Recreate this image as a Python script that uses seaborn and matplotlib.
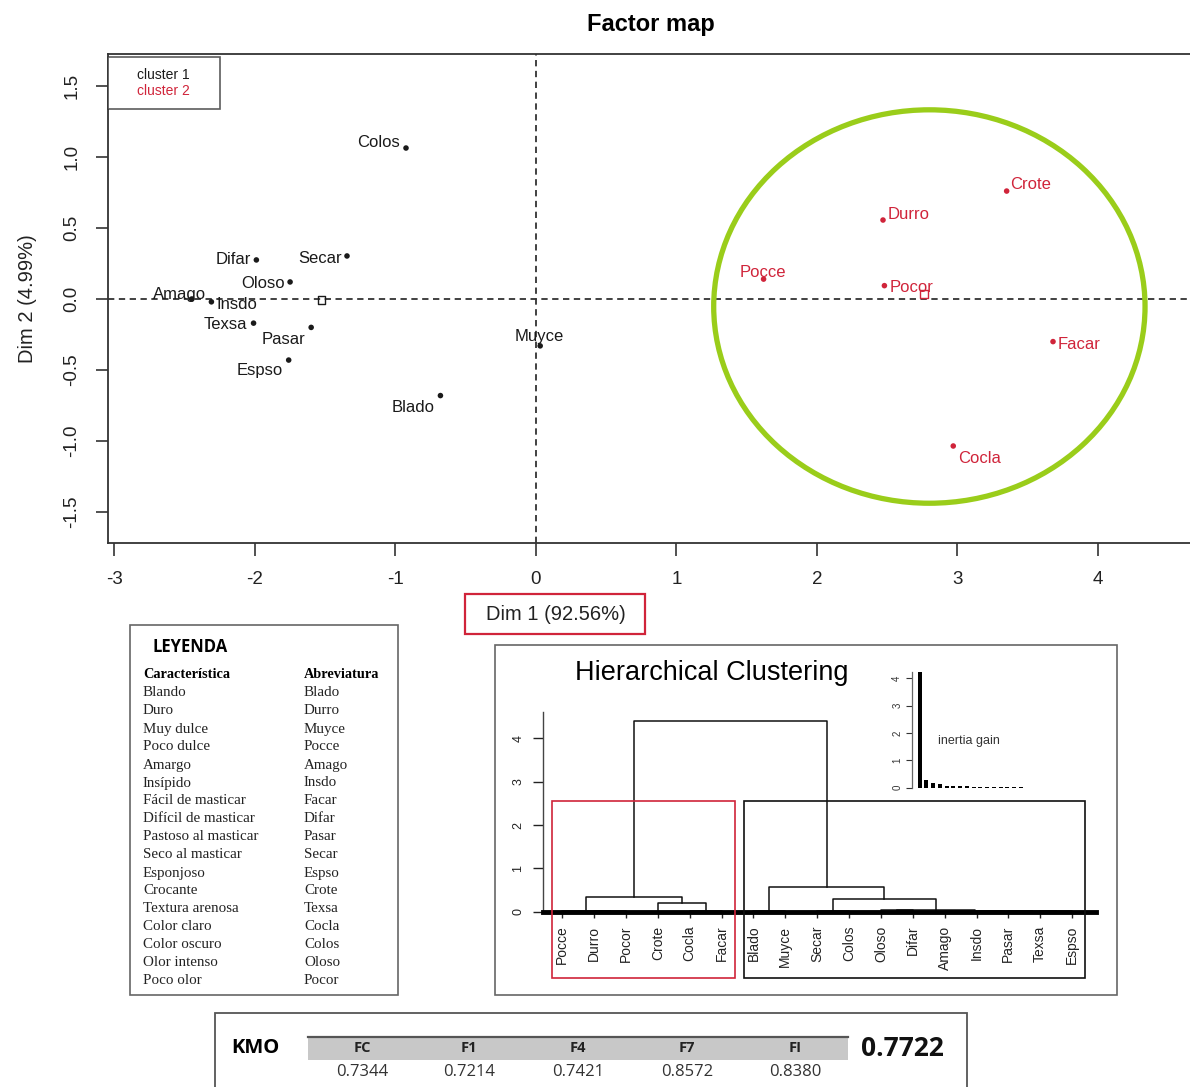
import numpy as np
import pandas as pd
import matplotlib
matplotlib.use("Agg")
import matplotlib.pyplot as plt
import seaborn as sns
from matplotlib.patches import Ellipse, Rectangle
from matplotlib.lines import Line2D

# ---------------- data ----------------
names = ["Colos", "Secar", "Difar", "Oloso", "Amago", "Insdo", "Texsa", "Pasar",
         "Espso", "Blado", "Muyce", "Crote", "Durro", "Pocce", "Pocor", "Facar", "Cocla"]
dim1 = [-0.925, -1.345, -1.99, -1.75, -2.45, -2.31, -2.01, -1.60,
        -1.76, -0.68, 0.03, 3.35, 2.47, 1.62, 2.48, 3.68, 2.97]
dim2 = [1.063, 0.303, 0.275, 0.12, 0.0, -0.02, -0.17, -0.20,
        -0.43, -0.68, -0.33, 0.76, 0.556, 0.14, 0.094, -0.30, -1.035]
cluster = [1] * 11 + [2] * 6

highlight_center = (2.80, -0.053)
highlight_size = (3.07, 2.77)

leaf_order = ["Pocce", "Durro", "Pocor", "Crote", "Cocla", "Facar", "Blado", "Muyce",
              "Secar", "Colos", "Oloso", "Difar", "Amago", "Insdo", "Pasar", "Texsa", "Espso"]
leaf_cluster = [2] * 6 + [1] * 11
merge_left = ["Durro", "Pocce", "Cocla", "Crote", "m1", "Blado", "Secar", "Oloso",
              "Texsa", "Pasar", "Insdo", "Amago", "m7", "m6", "m5", "m4"]
merge_right = ["Pocor", "m0", "Facar", "m2", "m3", "Muyce", "Colos", "Difar",
               "Espso", "m8", "m9", "m10", "m11", "m12", "m13", "m14"]
merge_height = [0.01, 0.02, 0.015, 0.21, 0.35, 0.02, 0.02, 0.04,
                0.005, 0.008, 0.01, 0.012, 0.045, 0.285, 0.577, 4.40]
cut_height = 2.56

inertia_gain = [4.22, 0.28, 0.18, 0.15, 0.07, 0.06, 0.05, 0.05,
                0.04, 0.04, 0.04, 0.03, 0.03, 0.03, 0.03, 0.03]

caracteristica = ["Blando", "Duro", "Muy dulce", "Poco dulce", "Amargo", "Insípido",
                  "Fácil de masticar", "Difícil de masticar", "Pastoso al masticar",
                  "Seco al masticar", "Esponjoso", "Crocante", "Textura arenosa",
                  "Color claro", "Color oscuro", "Olor intenso", "Poco olor"]
abreviatura = ["Blado", "Durro", "Muyce", "Pocce", "Amago", "Insdo", "Facar", "Difar",
               "Pasar", "Secar", "Espso", "Crote", "Texsa", "Cocla", "Colos", "Oloso", "Pocor"]

kmo_labels = ["FC", "F1", "F4", "F7", "FI"]
kmo_values = [0.7344, 0.7214, 0.7421, 0.8572, 0.8380]
kmo_total = 0.7722

# ---------------- style ----------------
plt.rcParams["font.family"] = ["Liberation Sans", "DejaVu Sans"]
plt.rcParams["axes.unicode_minus"] = False
RED = "#d0243a"
DARK = "#1a1a1a"
GREEN = "#9acd1a"
W, H = 1190, 1087


def rect(l, t, r, b):
    return [l / W, 1 - b / H, (r - l) / W, (b - t) / H]


def fig_rect(l, t, r, b, **kw):
    return Rectangle((l / W, 1 - b / H), (r - l) / W, (b - t) / H,
                     transform=fig.transFigure, **kw)


fig = plt.figure(figsize=(W / 100, H / 100), dpi=100)

# ---------------- factor map ----------------
ax = fig.add_axes(rect(108, 54, 1190, 543))
df = pd.DataFrame(dict(name=names, dim1=dim1, dim2=dim2, cluster=cluster))
pal = {1: DARK, 2: RED}
ax.axhline(0, color="#333333", lw=1.3, ls=(0, (3.5, 2.5)), zorder=1)
ax.axvline(0, color="#333333", lw=1.3, ls=(0, (3.5, 2.5)), zorder=1)
sns.scatterplot(data=df, x="dim1", y="dim2", hue="cluster", palette=pal, s=16,
                edgecolor="none", legend=False, ax=ax, zorder=3)
centers = df.groupby("cluster")[["dim1", "dim2"]].mean().reset_index()
sns.scatterplot(data=centers, x="dim1", y="dim2", hue="cluster", palette=pal,
                marker="s", s=28, linewidth=1.0, legend=False, ax=ax, zorder=3)
for c in ax.collections[-1:]:
    c.set_facecolor("none")
    c.set_edgecolor([pal[k] for k in centers["cluster"]])

label_style = {
    "Colos": (-6, 6, "right"), "Secar": (-5, -3, "right"), "Difar": (-5, 0, "right"),
    "Oloso": (-5, -2, "right"), "Amago": (-12, 4, "center"), "Insdo": (5, -3, "left"),
    "Texsa": (-6, -1, "right"), "Pasar": (-6, -12, "right"), "Espso": (-6, -10, "right"),
    "Blado": (-6, -12, "right"), "Muyce": (-1, 9, "center"), "Crote": (3, 7, "left"),
    "Durro": (5, 6, "left"), "Pocce": (-1, 7, "center"), "Pocor": (5, -2, "left"),
    "Facar": (5, -3, "left"), "Cocla": (5, -13, "left"),
}
for _, r in df.iterrows():
    dx, dy, ha = label_style[r["name"]]
    ax.annotate(r["name"], (r["dim1"], r["dim2"]), xytext=(dx, dy),
                textcoords="offset pixels", ha=ha, va="center", fontsize=12,
                color=pal[r["cluster"]], zorder=4)

ax.add_patch(Ellipse(highlight_center, highlight_size[0], highlight_size[1],
                     fill=False, ec=GREEN, lw=3.8, zorder=2))

ax.set_xlim(-3.046, 4.655)
ax.set_ylim(-1.718, 1.725)
ax.set_xticks(range(-3, 5))
ax.set_xticklabels([str(v) for v in range(-3, 5)])
yt = [-1.5, -1.0, -0.5, 0.0, 0.5, 1.0, 1.5]
ax.set_yticks(yt)
ax.set_yticklabels([f"{v:.1f}" for v in yt], rotation=90, va="center")
ax.tick_params(direction="out", length=9, width=1.1, labelsize=13.5, pad=11, colors="#222222")
for s in ["left", "top", "bottom"]:
    ax.spines[s].set_linewidth(1.3)
    ax.spines[s].set_color("#333333")
ax.spines["right"].set_visible(False)
ax.set_xlabel("")
ax.set_ylabel("Dim 2 (4.99%)", fontsize=14.5, color="#222222")
ax.yaxis.set_label_coords(-0.066, 0.5)

leg = ax.legend([Line2D([], [], linestyle="none")] * 2, ["cluster 1", "cluster 2"],
                loc="upper left", bbox_to_anchor=(0, 0.994, 0.1035, 0), mode="expand",
                handlelength=1.1, handletextpad=0.22, borderpad=0.8, labelspacing=0.15,
                fontsize=10, labelcolor=[DARK, RED], frameon=True, fancybox=False,
                edgecolor="#333333", borderaxespad=0)
leg.get_frame().set_linewidth(1.2)

fig.text(651 / W, 1 - 25 / H, "Factor map", ha="center", va="center",
         fontsize=17, fontweight="bold")
fig.patches.append(fig_rect(465, 594, 645, 634, fill=True, fc="white", ec=RED, lw=1.6))
fig.text(556 / W, 1 - 614 / H, "Dim 1 (92.56%)", ha="center", va="center",
         fontsize=14.5, color="#222222")

# ---------------- legend table ----------------
fig.patches.append(fig_rect(130, 625, 398, 995, fill=False, ec="#666666", lw=1.2))
fig.text(153 / W, 1 - 647 / H, "LEYENDA", fontfamily="Open Sans", fontweight="bold",
         fontsize=12, va="center", ha="left")
serif = "Liberation Serif"
fig.text(143 / W, 1 - 675 / H, "Característica", fontfamily=serif, fontweight="bold",
         fontsize=10.3, va="center")
fig.text(304 / W, 1 - 675 / H, "Abreviatura", fontfamily=serif, fontweight="bold",
         fontsize=10.3, va="center")
for i, (c, a) in enumerate(zip(caracteristica, abreviatura)):
    yy = 675 + 18.0 * (i + 1)
    fig.text(143 / W, 1 - yy / H, c, fontfamily=serif, fontsize=10.8, va="center", color="#222222")
    fig.text(304 / W, 1 - yy / H, a, fontfamily=serif, fontsize=10.8, va="center", color="#222222")

# ---------------- hierarchical clustering ----------------
fig.patches.append(fig_rect(495, 645, 1117, 995, fill=False, ec="#666666", lw=1.2))
fig.text(712 / W, 1 - 673 / H, "Hierarchical Clustering", ha="center", va="center", fontsize=19.5)

axd = fig.add_axes(rect(542.5, 711.7, 1096, 911.7))
axd.patch.set_visible(False)
pos = {leaf: float(i) for i, leaf in enumerate(leaf_order)}
hgt = {leaf: 0.0 for leaf in leaf_order}
for k, (a, b, h) in enumerate(zip(merge_left, merge_right, merge_height)):
    xa, xb = pos[a], pos[b]
    axd.plot([xa, xa, xb, xb], [hgt[a], h, h, hgt[b]], color="#111111", lw=1.1)
    pos[f"m{k}"] = (xa + xb) / 2
    hgt[f"m{k}"] = h
for cl, col in [(2, RED), (1, "#111111")]:
    idx = [i for i, c in enumerate(leaf_cluster) if c == cl]
    x0, x1 = min(idx) - 0.31, max(idx) + 0.41
    axd.add_patch(Rectangle((x0, -1.53), x1 - x0, cut_height + 1.53, fill=False,
                            ec=col, lw=1.2, clip_on=False, zorder=5))
axd.set_xlim(-0.62, 16.75)
axd.set_ylim(0, 4.616)
axd.set_xticks(range(len(leaf_order)))
axd.set_xticklabels(leaf_order, rotation=90, fontsize=10)
axd.set_yticks(range(5))
axd.set_yticklabels([str(v) for v in range(5)], rotation=90, va="center", fontsize=9)
axd.tick_params(axis="x", length=4, width=1, pad=6, colors="#222222")
axd.tick_params(axis="y", length=7, width=1, pad=6, colors="#222222")
axd.spines["top"].set_visible(False)
axd.spines["right"].set_visible(False)
axd.spines["bottom"].set_linewidth(3.5)
axd.spines["bottom"].set_color("black")
axd.spines["left"].set_linewidth(1.0)
axd.spines["left"].set_color("#444444")

axi = fig.add_axes(rect(912, 672, 1030, 787.7))
axi.patch.set_visible(False)
sns.barplot(x=np.arange(1, len(inertia_gain) + 1), y=inertia_gain, native_scale=True,
            color="black", saturation=1, width=0.6, errorbar=None, ax=axi)
axi.set_xlim(-0.14, 17.34)
axi.set_ylim(0, 4.23)
axi.set_xticks([])
axi.set_yticks(range(5))
axi.set_yticklabels([str(v) for v in range(5)], rotation=90, va="center", fontsize=7)
axi.tick_params(axis="y", length=4, width=0.8, pad=3, colors="#333333")
for s in ["top", "right", "bottom"]:
    axi.spines[s].set_visible(False)
axi.spines["left"].set_linewidth(0.9)
axi.spines["left"].set_color("#666666")
axi.set_xlabel("")
axi.set_ylabel("")
fig.text(969 / W, 1 - 741 / H, "inertia gain", ha="center", va="center", fontsize=9, color="#333333")

# ---------------- KMO table ----------------
fig.patches.append(fig_rect(215, 1013, 967, 1100, fill=False, ec="#555555", lw=1.3))
fig.patches.append(fig_rect(308, 1037, 848, 1060, fill=True, fc="#c8c8c8", ec="none"))
fig.lines.append(Line2D([308 / W, 848 / W], [1 - 1037 / H, 1 - 1037 / H],
                        transform=fig.transFigure, color="#555555", lw=1.6))
fig.text(255 / W, 1 - 1048 / H, "KMO", fontfamily="Open Sans", fontweight="bold",
         fontsize=14.5, ha="center", va="center")
hx = [362, 469, 578, 687, 795]
for x, lab, v in zip(hx, kmo_labels, kmo_values):
    fig.text(x / W, 1 - 1048 / H, lab, fontfamily="Open Sans", fontweight="bold",
             fontsize=10.5, ha="center", va="center", color="#222222")
    fig.text(x / W, 1 - 1072 / H, f"{v:.4f}", fontfamily="Open Sans",
             fontsize=12, ha="center", va="center", color="#333333")
fig.text(902 / W, 1 - 1048 / H, f"{kmo_total:.4f}", fontfamily="Open Sans", fontweight="bold",
         fontsize=19, ha="center", va="center", color="#111111")

fig.savefig("out.png", dpi=100)
